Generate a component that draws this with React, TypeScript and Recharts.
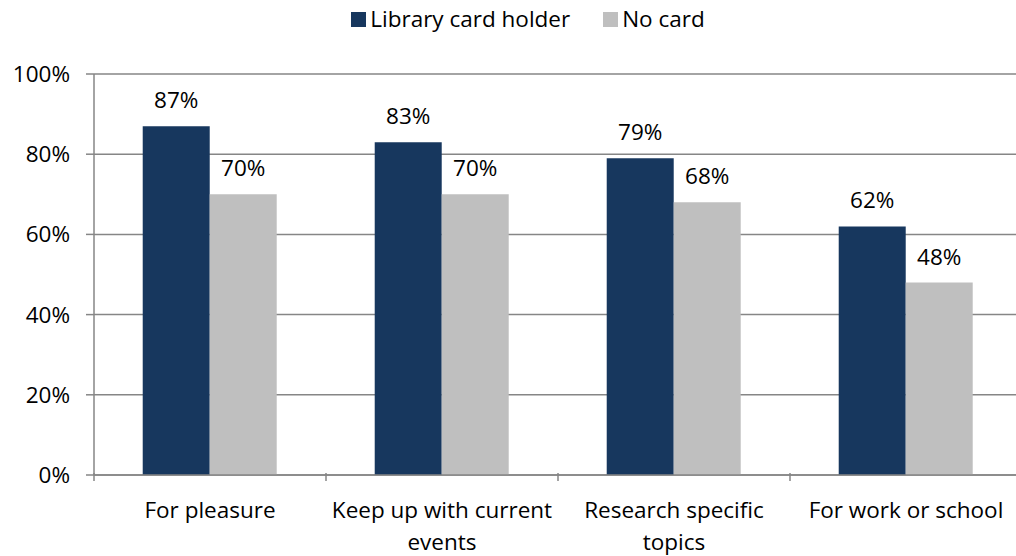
import { Bar, BarChart, CartesianGrid, LabelList, Legend, XAxis, YAxis } from "recharts";

const categories = ["For pleasure", "Keep up with current events", "Research specific topics", "For work or school"];
const categoryLines = [["For pleasure"], ["Keep up with current", "events"], ["Research specific", "topics"], ["For work or school"]];
const cardHolder = [87, 83, 79, 62];
const noCard = [70, 70, 68, 48];
const yTicks = [0, 20, 40, 60, 80, 100];

const data = categories.map((name, i) => ({ name, holder: cardHolder[i], none: noCard[i] }));

const FONT = "'Open Sans', sans-serif";
const FS = 22.5;
const PLOT_W = 928;
const HALF_BAND = PLOT_W / categories.length / 2;

function CategoryTick(props: any) {
  const { x, y, index } = props;
  const lines = categoryLines[index] ?? [props.payload.value];
  return (
    <g>
      <line x1={x - HALF_BAND} x2={x - HALF_BAND} y1={y - 10} y2={y - 2} stroke="#868686" strokeWidth={1.5} />
      <text x={x} y={y + 35} textAnchor="middle" fontSize={FS} fill="#000" fontFamily={FONT}>
        {lines.map((l: string, i: number) => (
          <tspan key={i} x={x} dy={i === 0 ? 0 : 31.5}>
            {l}
          </tspan>
        ))}
      </text>
    </g>
  );
}

function LegendContent(props: any) {
  const items = props.payload ?? [];
  return (
    <div style={{ display: "flex", justifyContent: "center", alignItems: "center", fontFamily: FONT, fontSize: FS, color: "#000", lineHeight: "30px" }}>
      {items.map((it: any, i: number) => (
        <span key={i} style={{ display: "inline-flex", alignItems: "center", marginRight: i < items.length - 1 ? 33 : 0 }}>
          <span style={{ display: "inline-block", width: 15, height: 15, background: it.color, marginRight: 4 }} />
          {it.value}
        </span>
      ))}
    </div>
  );
}

const pct = (v: number) => `${v}%`;

export default function App() {
  return (
    <div style={{ position: "absolute", left: 0, top: 0, width: 1016, height: 556, overflow: "hidden", background: "#fff" }}>
      <BarChart width={1022} height={556} data={data} margin={{ top: 44, right: 0, left: 0, bottom: 21 }} barCategoryGap="21%" barGap={0}>
        <CartesianGrid vertical={false} stroke="#868686" strokeWidth={1.5} />
        <XAxis dataKey="name" height={60} axisLine={{ stroke: "#868686", strokeWidth: 1.5 }} tickLine={false} tick={<CategoryTick />} interval={0} />
        <YAxis
          width={94}
          domain={[0, 100]}
          ticks={yTicks}
          tickFormatter={pct}
          axisLine={{ stroke: "#868686", strokeWidth: 1.5 }}
          tickLine={{ stroke: "#868686", strokeWidth: 1.5 }}
          tickSize={8}
          tickMargin={16}
          tick={{ fill: "#000", fontSize: FS, fontFamily: FONT }}
        />
        <Legend verticalAlign="top" content={<LegendContent />} wrapperStyle={{ top: 4, left: 17, width: 1022 }} />
        <Bar dataKey="holder" name="Library card holder" fill="#17375E" isAnimationActive={false}>
          <LabelList dataKey="holder" position="top" offset={18} formatter={pct} fill="#000" fontSize={FS} fontFamily={FONT} />
        </Bar>
        <Bar dataKey="none" name="No card" fill="#BFBFBF" isAnimationActive={false}>
          <LabelList dataKey="none" position="top" offset={18} formatter={pct} fill="#000" fontSize={FS} fontFamily={FONT} />
        </Bar>
      </BarChart>
    </div>
  );
}
